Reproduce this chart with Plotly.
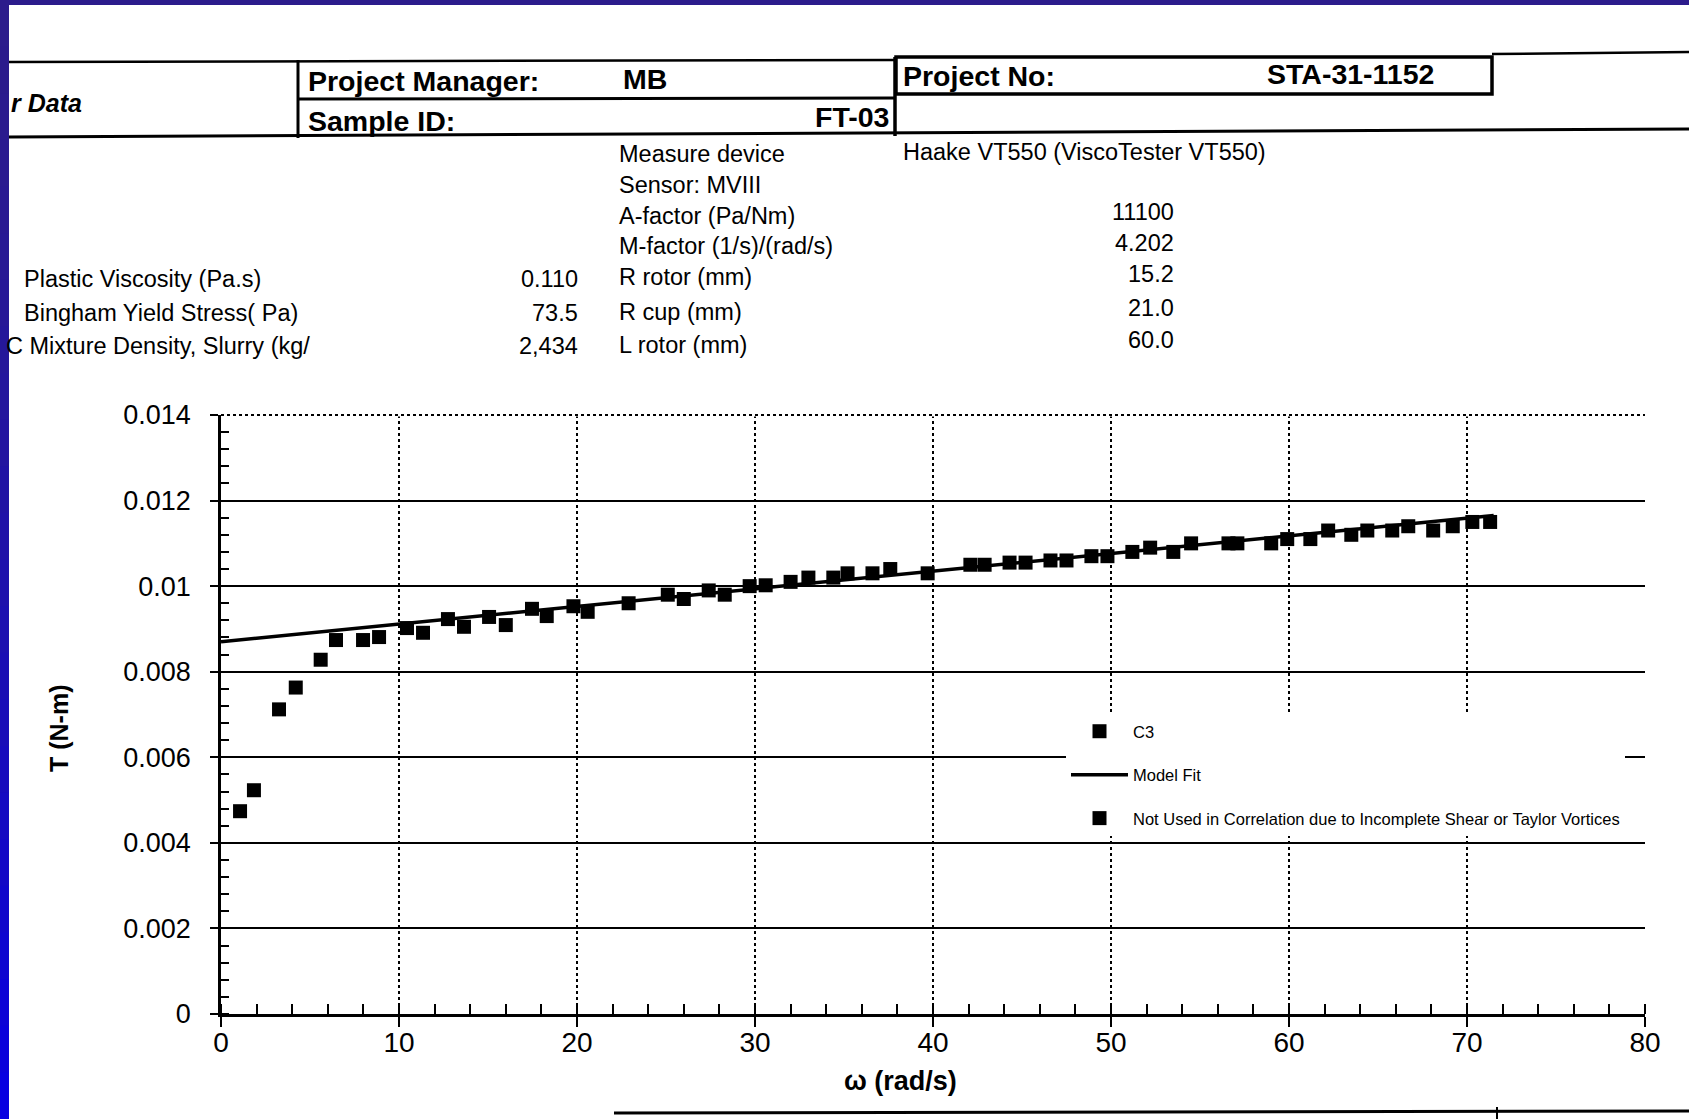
import plotly.graph_objects as go

# ---------------- data ----------------
omega_c3 = [6.46, 7.98, 8.88, 10.45, 11.35, 12.75, 13.65, 15.06, 16.0, 17.47, 18.3, 19.8, 20.6,
            22.9, 25.1, 26.0, 27.4, 28.3, 29.7, 30.6, 32.0, 33.0, 34.4, 35.2, 36.6, 37.6, 39.7,
            42.1, 42.9, 44.3, 45.2, 46.6, 47.5, 48.9, 49.8, 51.2, 52.2, 53.5, 54.5, 56.6, 57.1,
            59.0, 59.9, 61.2, 62.2, 63.5, 64.4, 65.8, 66.7, 68.1, 69.2, 70.3, 71.3]
torque_c3 = [0.00874, 0.00874, 0.00881, 0.00902, 0.00891, 0.00923, 0.00905, 0.00928, 0.00909,
             0.00947, 0.00930, 0.00953, 0.00940,
             0.00960, 0.00980, 0.00970, 0.00990, 0.00980, 0.01000, 0.01002, 0.01010, 0.01020,
             0.01020, 0.01030, 0.01030, 0.01040, 0.01030,
             0.01050, 0.01050, 0.01055, 0.01055, 0.01060, 0.01060, 0.01070, 0.01070, 0.01080,
             0.01090, 0.01080, 0.01100, 0.01100, 0.01100,
             0.01100, 0.01110, 0.01110, 0.01130, 0.01120, 0.01130, 0.01130, 0.01140, 0.01130,
             0.01140, 0.01150, 0.01150]

omega_not_used = [1.07, 1.85, 3.26, 4.2, 5.6]
torque_not_used = [0.00474, 0.00523, 0.00712, 0.00763, 0.00828]

omega_fit = [0.0, 71.5]
torque_fit = [0.0087, 0.01165]

y_ticks = [0, 0.002, 0.004, 0.006, 0.008, 0.01, 0.012, 0.014]
y_ticktext = ["0", "0.002", "0.004", "0.006", "0.008", "0.01", "0.012", "0.014"]
x_ticks = [0, 10, 20, 30, 40, 50, 60, 70, 80]

left_labels = ["Plastic Viscosity (Pa.s)", "Bingham Yield Stress( Pa)", "C Mixture Density, Slurry (kg/"]
left_values = ["0.110", "73.5", "2,434"]
device_labels = ["Measure device", "Sensor: MVIII", "A-factor (Pa/Nm)", "M-factor (1/s)/(rad/s)",
                 "R rotor (mm)", "R cup (mm)", "L rotor (mm)"]
device_values = ["Haake VT550 (ViscoTester VT550)", "", "11100", "4.202", "15.2", "21.0", "60.0"]

# ---------------- geometry helpers (pixel -> paper) ----------------
W, H = 1689, 1119
L, R, T, B = 221, 1645, 415, 1014


def px(x):
    return (x - L) / (R - L)


def py(y):
    return (B - y) / (B - T)


FONT = "Arial, Liberation Sans, sans-serif"

fig = go.Figure()
fig.add_trace(go.Scatter(x=omega_c3, y=torque_c3, mode="markers", name="C3",
                         legendgroup="a",
                         marker=dict(symbol="square", size=14, color="black")))
fig.add_trace(go.Scatter(x=omega_fit, y=torque_fit, mode="lines", name="Model Fit",
                         legendgroup="b",
                         line=dict(color="black", width=3.5)))
fig.add_trace(go.Scatter(x=omega_not_used, y=torque_not_used, mode="markers",
                         name="Not Used in Correlation due to Incomplete Shear or Taylor Vortices",
                         legendgroup="c",
                         marker=dict(symbol="square", size=14, color="black")))

shapes = []
annotations = []


def hline(x0, y0, x1, y1, w=2.5, dash="solid", color="black"):
    shapes.append(dict(type="line", xref="paper", yref="paper", x0=px(x0), y0=py(y0),
                       x1=px(x1), y1=py(y1), line=dict(color=color, width=w, dash=dash),
                       layer="above"))


def rect(x0, y0, x1, y1, fill, lw=0, lc="black"):
    shapes.append(dict(type="rect", xref="paper", yref="paper", x0=px(x0), y0=py(y0),
                       x1=px(x1), y1=py(y1), fillcolor=fill,
                       line=dict(color=lc, width=lw), layer="above"))


def text(s, x, y, size=23.5, bold=False, italic=False, anchor="left", angle=0):
    t = s
    if bold:
        t = "<b>" + t + "</b>"
    if italic:
        t = "<i>" + t + "</i>"
    annotations.append(dict(text=t, xref="paper", yref="paper", x=px(x), y=py(y),
                            xanchor=anchor, yanchor="middle", showarrow=False, textangle=angle,
                            font=dict(family=FONT, size=size, color="black")))


# top border of plot (dotted)
hline(L, T, R, T, w=3, color="white")
hline(L, T, R, T, w=1.8, dash="dot")

# header table lines
hline(9, 62, 896, 60, w=2.5)
hline(298, 60, 298, 138, w=3)
hline(895, 57, 895, 136, w=3.5)
hline(298, 99, 895, 98, w=3)
rect(896, 57, 1492, 94, "rgba(0,0,0,0)", lw=3.5)
hline(1492, 54, 1689, 52, w=2.5)
hline(9, 137, 1689, 129, w=3)
# bottom page line
hline(614, 1113, 1689, 1111, w=3)
hline(1497, 1107, 1497, 1119, w=2)

# page frame (scan border)
rect(0, 0, W, 5, "rgb(44,28,140)")
n_seg = 24
for i in range(n_seg):
    f = i / (n_seg - 1)
    r_ = int(44 + (8 - 44) * f ** 1.5)
    g_ = int(28 + (0 - 28) * f ** 1.5)
    b_ = int(140 + (225 - 140) * f ** 1.5)
    rect(0, H * i / n_seg, 9, H * (i + 1) / n_seg + 1, "rgb(%d,%d,%d)" % (r_, g_, b_))

# header texts
text("r Data", 9, 103, size=25, bold=True, italic=True)
text("Project Manager:", 306, 81, size=28.5, bold=True)
text("MB", 621, 79, size=28.5, bold=True)
text("Sample ID:", 306, 121, size=28.5, bold=True)
text("FT-03", 891, 117, size=28.5, bold=True, anchor="right")
text("Project No:", 901, 76, size=28.5, bold=True)
text("STA-31-1152", 1265, 74, size=28.5, bold=True)

dev_y = [154, 185, 216, 246, 277, 312, 345]
val_y = [152, 185, 212, 243, 274, 308, 340]
for lab, yy in zip(device_labels, dev_y):
    text(lab, 617, yy)
text(device_values[0], 901, val_y[0])
for v, yy in zip(device_values[2:], val_y[2:]):
    text(v, 1176, yy, anchor="right")

left_y = [279, 313, 346]
for lab, v, yy in zip(left_labels, left_values, left_y):
    text(lab, 22 if not lab.startswith("C ") else 4, yy)
    text(v, 580, yy, anchor="right")

# axis titles
text("ω (rad/s)", 900, 1081, size=27, bold=True, anchor="center")
text("T (N-m)", 59, 729, size=25, bold=True, anchor="center", angle=-90)

fig.update_layout(
    width=W, height=H, autosize=False,
    margin=dict(l=L, r=W - R, t=T, b=H - B, pad=0),
    paper_bgcolor="white", plot_bgcolor="white",
    font=dict(family=FONT, color="black"),
    showlegend=True,
    legend=dict(x=px(1066), y=py(714), xanchor="left", yanchor="top",
                bgcolor="white", borderwidth=0, font=dict(size=16.5, family=FONT),
                traceorder="grouped", tracegroupgap=19, itemwidth=57),
    shapes=shapes, annotations=annotations,
)

fig.update_xaxes(
    range=[0, 80], tickvals=x_ticks, showline=True, linecolor="black", linewidth=2.5,
    ticks="outside", ticklen=10, tickwidth=2, tickcolor="black",
    tickfont=dict(size=28, family=FONT), ticklabelstandoff=-8, automargin=False,
    showgrid=True, gridcolor="black", gridwidth=2, griddash="dot", zeroline=False,
    minor=dict(dtick=2, ticks="inside", ticklen=10, tickwidth=2, tickcolor="black", showgrid=False),
)
fig.update_yaxes(
    range=[0, 0.014], tickvals=y_ticks, ticktext=y_ticktext,
    showline=True, linecolor="black", linewidth=2.5,
    ticks="outside", ticklen=8, tickwidth=2, tickcolor="black",
    tickfont=dict(size=27, family=FONT), ticklabelstandoff=14, automargin=False,
    showgrid=True, gridcolor="black", gridwidth=2, zeroline=False,
    minor=dict(dtick=0.0004, ticks="inside", ticklen=8, tickwidth=2, tickcolor="black", showgrid=False),
)

fig.write_html("out.html", config={"displayModeBar": False},
               post_script="document.body.style.margin='0px';document.body.style.overflow='hidden';")
